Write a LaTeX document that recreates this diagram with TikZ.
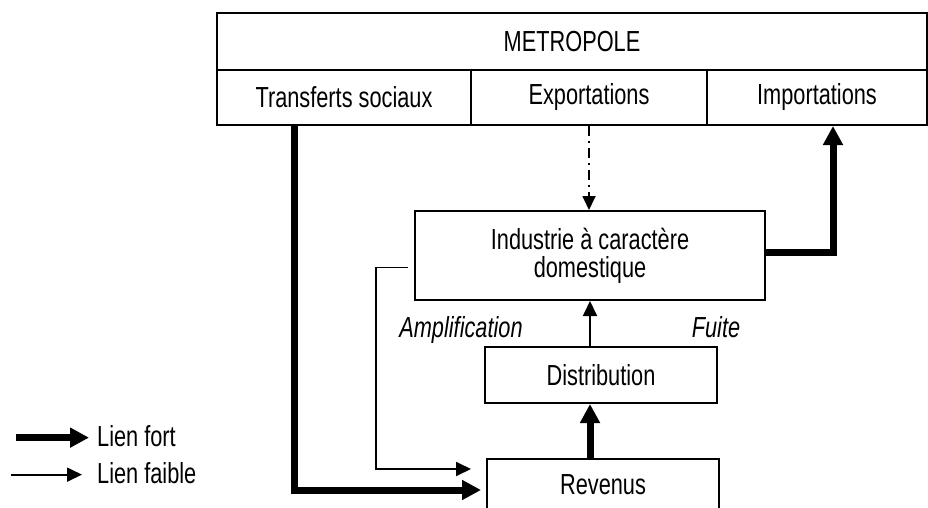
\documentclass[tikz,border=0pt]{standalone}
\usepackage{fontspec}
\setmainfont[FakeStretch=0.75]{Liberation Sans}
\usepackage{tikz}
\usetikzlibrary{arrows.meta,positioning}

\begin{document}
\begin{tikzpicture}[x=1pt,y=-1pt,
  font=\fontsize{29}{28}\selectfont,
  boite/.style={draw, line width=2pt, inner sep=0pt},
  fort/.style={line width=7pt, -{Triangle[length=19pt,width=19pt]}},
  faible/.style={line width=1.8pt, -{Triangle[length=15pt,width=14pt]}},
  pointille/.style={line width=1.8pt, dash pattern=on 10pt off 5pt on 2pt off 5pt, -{Triangle[length=14pt,width=13pt]}},
  etiquette/.style={inner sep=0pt, anchor=base, font=\fontsize{29}{28}\selectfont\itshape}]
\useasboundingbox (0,0) rectangle (928,508);
\clip (0,0) rectangle (928,508);

\node[boite, minimum width=710pt, minimum height=57pt] (metro) at (572,41.5) {METROPOLE};
\node[boite, minimum width=254pt, minimum height=55pt] (transf) at (344,97.5) {Transferts sociaux};
\node[boite, minimum width=236pt, minimum height=55pt] (export) at (589,97.5) {Exportations};
\node[boite, minimum width=220pt, minimum height=55pt] (import) at (817,97.5) {Importations};

\node[boite, minimum width=350pt, minimum height=89pt, align=center] (indus) at (590,255.5) {Industrie à caractère\\domestique};
\node[boite, minimum width=232pt, minimum height=56pt] (distrib) at (601,375) {Distribution};
\node[boite, anchor=north, minimum width=232pt, text height=21pt, text depth=40pt, inner ysep=14pt] (rev) at (603,458) {Revenus};

\node[etiquette] (ampli) at (461,337) {Amplification};
\node[etiquette] (fuite) at (716,337) {Fuite};

\node[inner sep=0pt, anchor=base west] (lfort) at (97,446) {Lien fort};
\node[inner sep=0pt, anchor=base west] (lfaible) at (97,483) {Lien faible};

\draw[pointille] (export.south) -- (export.south |- indus.north);
\draw[faible] (distrib.north -| indus.south) -- (indus.south);
\draw[fort] (rev.north -| indus.south) -- (distrib.south -| indus.south);
\draw[fort] ([yshift=3pt]indus.east) -| ([xshift=16pt]import.south);
\draw[fort] ([xshift=-50pt]transf.south) |- ([xshift=-5pt,yshift=-32pt]rev.north west);
\draw[faible] ([xshift=-6pt,yshift=-12pt]indus.west) -- ++(-32,0) |- ([xshift=-15pt,yshift=-11pt]rev.north west);

\draw[fort] ([xshift=-81pt,yshift=-2pt]lfort.west) -- ([xshift=-8pt,yshift=-2pt]lfort.west);
\draw[faible] ([xshift=-86pt,yshift=-2pt]lfaible.west) -- ([xshift=-15pt,yshift=-2pt]lfaible.west);
\end{tikzpicture}
\end{document}
